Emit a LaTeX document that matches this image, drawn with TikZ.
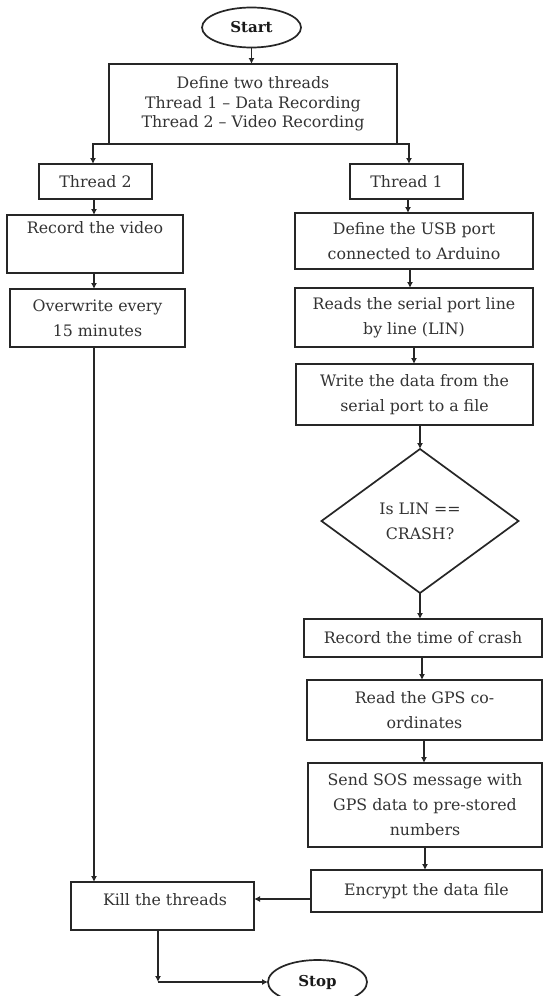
\documentclass[tikz,border=0pt]{standalone}
\usepackage{fontspec}
\setmainfont{DejaVu Serif}
\usetikzlibrary{arrows.meta,shapes.geometric}
\begin{document}
\begin{tikzpicture}[x=1pt,y=-1pt,
  font=\fontsize{15.8}{25}\selectfont,
  box/.style={draw=black!85, line width=1.7pt, rectangle, inner sep=0pt, outer sep=0pt, align=center, text=black!80},
  term/.style={draw=black!85, line width=1.7pt, ellipse, inner sep=0pt, outer sep=0pt, text=black!90, font=\fontsize{15}{18}\selectfont\bfseries},
  decision/.style={draw=black!85, line width=1.7pt, diamond, inner sep=0pt, outer sep=0pt, align=center, text=black!80},
  lbl/.style={inner sep=0pt, align=center, text=black!80},
  arr/.style={draw=black!85, line width=1.7pt, -{Latex[length=6pt,width=6pt]}}]
\useasboundingbox (0,0) rectangle (544,996);
\fill[white] (0,0) rectangle (544,996);

% terminals
\node[term, minimum width=99pt, minimum height=40pt] (start) at (251.5,27.5) {Start};
\node[term, minimum width=99pt, minimum height=44pt] (stop) at (317.5,982) {Stop};

% top box
\node[box, minimum width=288pt, minimum height=80pt, font=\fontsize{15.8}{19.5}\selectfont] (def) at (253,104)
  {Define two threads\\Thread 1 -- Data Recording\\Thread 2 -- Video Recording};

% thread 2 column
\node[box, minimum width=113pt, minimum height=35pt] (t2) at (95.5,181.5) {Thread 2};
\node[box, minimum width=176pt, minimum height=58pt] (vid) at (95,244) {Record the video\\ \strut};
\node[box, minimum width=175pt, minimum height=58pt] (ovr) at (97.5,318) {Overwrite every\\15 minutes};

% thread 1 column
\node[box, minimum width=113pt, minimum height=35pt] (t1) at (406.5,181.5) {Thread 1};
\node[box, minimum width=238pt, minimum height=56pt] (usb) at (414,241) {Define the USB port\\connected to Arduino};
\node[box, minimum width=238pt, minimum height=59pt] (rd) at (414,317.5) {Reads the serial port line\\by line (LIN)};
\node[box, minimum width=237pt, minimum height=61pt] (wr) at (414.5,394.5) {Write the data from the\\serial port to a file};
\node[decision, minimum width=197pt, minimum height=144pt] (dia) at (420,521) {Is LIN ==\\CRASH?};
\node[box, minimum width=238pt, minimum height=38pt] (rec) at (423,638) {Record the time of crash};
\node[box, minimum width=235pt, minimum height=60pt] (gps) at (424.5,710) {Read the GPS co-\\ordinates};
\node[box, minimum width=234pt, minimum height=84pt] (sos) at (425,805) {Send SOS message with\\GPS data to pre-stored\\numbers};
\node[box, minimum width=231pt, minimum height=42pt] (enc) at (426.5,891) {Encrypt the data file};

% end box
\node[box, minimum width=183pt, minimum height=48pt] (kill) at (162.5,906) {};
\node[lbl] (killt) at (165,900) {Kill the threads};

\coordinate (corner) at (158,982);

% connectors
\draw[arr] (start.south) -- (start.south |- def.north);
\draw[arr] (def.south west) -| ([xshift=-2.5pt]t2.north);
\draw[arr] (def.south east) -| ([xshift=2.5pt]t1.north);
\draw[arr] ([xshift=-1.5pt]t2.south) -- ([xshift=-1.5pt]t2.south |- vid.north);
\draw[arr] ([xshift=-1pt]vid.south) -- ([xshift=-1pt]vid.south |- ovr.north);
\draw[arr] ([xshift=-3.5pt]ovr.south) -- ([xshift=-3.5pt]ovr.south |- kill.north);
\draw[arr] ([xshift=1.5pt]t1.south) -- ([xshift=1.5pt]t1.south |- usb.north);
\draw[arr] ([xshift=-4pt]usb.south) -- ([xshift=-4pt]usb.south |- rd.north);
\draw[arr] (rd.south) -- (rd.south |- wr.north);
\draw[arr] (dia.north |- wr.south) -- (dia.north);
\draw[arr] (dia.south) -- (dia.south |- rec.north);
\draw[arr] ([xshift=-1pt]rec.south) -- ([xshift=-1pt]rec.south |- gps.north);
\draw[arr] ([xshift=-0.5pt]gps.south) -- ([xshift=-0.5pt]gps.south |- sos.north);
\draw[arr] (sos.south) -- (sos.south |- enc.north);
\draw[arr] ([yshift=-8pt]enc.west) -- ([yshift=-8pt]enc.west -| kill.east);
\draw[arr] (kill.south -| corner) -- (corner);
\draw[arr] (corner) -- (stop.west);
\end{tikzpicture}
\end{document}
